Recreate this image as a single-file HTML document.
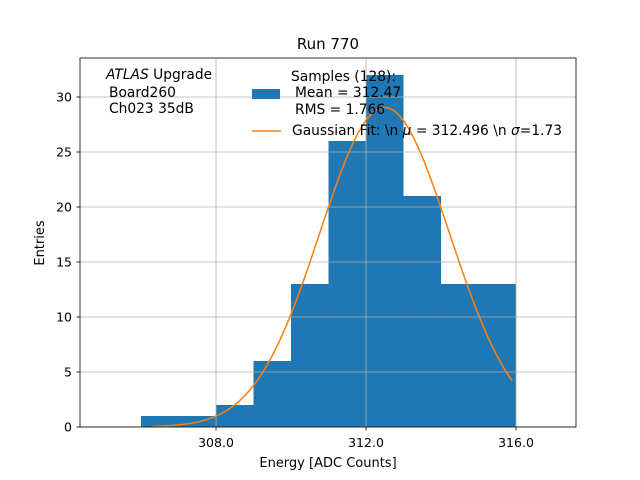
<!DOCTYPE html>
<html><head><meta charset="utf-8"><style>body{margin:0;background:#fff}svg{display:block;font-family:"DejaVu Sans","Liberation Sans",sans-serif}</style></head>
<body>
<svg id="c" width="640" height="480">
<rect x="0" y="0" width="640" height="480" fill="#fff"/>
<text x="328" y="49" font-size="15" text-anchor="middle">Run 770</text>
<g id="bars"></g><g id="grid"></g>
<path id="fit" fill="none" stroke="#ff7f0e" stroke-width="1.5"/>
<rect x="80" y="58" width="496" height="369" fill="none" stroke="#000" stroke-width="0.8"/>
<g id="ticks" font-size="12.5"></g>
<text x="328" y="467" font-size="13" text-anchor="middle">Energy [ADC Counts]</text>
<text transform="translate(44,243) rotate(-90)" font-size="13" text-anchor="middle">Entries</text>
<g font-size="13.8">
<text x="106" y="79"><tspan font-style="italic">ATLAS</tspan> Upgrade</text>
<text x="109" y="97">Board260</text>
<text x="109" y="113">Ch023 35dB</text>
</g>
<g font-size="13.8">
<rect x="252" y="89" width="28" height="10" fill="#1f77b4"/>
<text x="291" y="81">Samples (128):</text>
<text x="295" y="97">Mean = 312.47</text>
<text x="295" y="114">RMS = 1.766</text>
<line x1="252" y1="131" x2="281" y2="131" stroke="#ff7f0e" stroke-width="1.5"/>
<text x="292" y="135">Gaussian Fit: \n <tspan font-style="italic">μ</tspan> = 312.496 \n <tspan font-style="italic">σ</tspan>=1.73</text>
</g>
</svg>
<script>
const binEdges=[306,307,308,309,310,311,312,313,314,315];
const counts=[1,1,2,6,13,26,32,21,13,13];
const xTicks=[308,312,316];
const yTicks=[0,5,10,15,20,25,30];
const fitMu=312.496, fitSigma=1.73, fitN=126, fitRange=[306.3,315.9];
const X=v=>80+(v-304.373)*37.5, Y=v=>427-v*11;
const ns='http://www.w3.org/2000/svg';
function mk(t,p,a){const e=document.createElementNS(ns,t);for(const k in a)e.setAttribute(k,a[k]);p.appendChild(e);return e;}
const B=document.getElementById('bars'),G=document.getElementById('grid'),T=document.getElementById('ticks');
binEdges.forEach((b,i)=>{const r=mk('rect',B,{x:X(b),y:Y(counts[i]),width:X(b+1)-X(b),height:Y(0)-Y(counts[i]),fill:'#1f77b4'});

});
xTicks.forEach(v=>{const l=mk('line',G,{x1:X(v),x2:X(v),y1:58,y2:427,stroke:'#b0b0b0','stroke-width':0.8});


mk('line',T,{x1:X(v),x2:X(v),y1:427,y2:430.5,stroke:'#000','stroke-width':0.8});
const t=mk('text',T,{x:X(v),y:447,'text-anchor':'middle'});t.textContent=v.toFixed(1);

});
yTicks.forEach(v=>{const l=mk('line',G,{x1:80,x2:576,y1:Y(v),y2:Y(v),stroke:'#b0b0b0','stroke-width':0.8});


mk('line',T,{x1:76.5,x2:80,y1:Y(v),y2:Y(v),stroke:'#000','stroke-width':0.8});
const t=mk('text',T,{x:72,y:Y(v)+4.5,'text-anchor':'end'});t.textContent=v;

});
let d='';for(let i=0;i<=100;i++){const x=fitRange[0]+(fitRange[1]-fitRange[0])*i/100;
const y=fitN/(Math.sqrt(2*Math.PI)*fitSigma)*Math.exp(-((x-fitMu)**2)/(2*fitSigma**2));
d+=(i?'L':'M')+X(x).toFixed(2)+','+Y(y).toFixed(2);}
document.getElementById('fit').setAttribute('d',d);
</script>
</body></html>
